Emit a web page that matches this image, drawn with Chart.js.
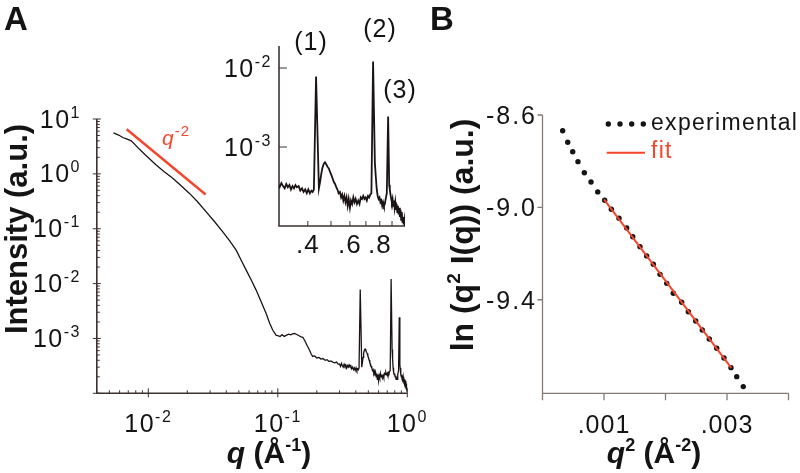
<!DOCTYPE html>
<html>
<head>
<meta charset="utf-8">
<script src="https://cdn.jsdelivr.net/npm/chart.js@4.4.1/dist/chart.umd.min.js"></script>
<style>
  body { margin: 0; background: #fff; }
  #wrap { position: relative; width: 800px; height: 473px; }
  canvas { position: absolute; left: 0; top: 0; }
</style>
</head>
<body>
<div id="wrap">
  <canvas id="chartA" width="800" height="473"></canvas>
  <canvas id="chartInset" width="800" height="473"></canvas>
  <canvas id="chartB" width="800" height="473"></canvas>
</div>
<script>
// panel A: scattering curve, I(q)
const qValues = [
  0.00538, 0.0059, 0.00635, 0.0068, 0.00738, 0.0080, 0.00855, 0.0095, 0.0115, 0.0132,
  0.01545, 0.018, 0.0208, 0.024, 0.028, 0.0325, 0.0376, 0.0425, 0.0477, 0.052,
  0.057, 0.0625, 0.068, 0.0745, 0.0813, 0.0865, 0.0915, 0.0972, 0.100,
  0.104, 0.108, 0.112, 0.116, 0.121, 0.126, 0.130, 0.1346, 0.140, 0.146,
  0.151, 0.156, 0.162, 0.168, 0.176, 0.181, 0.186, 0.193, 0.200, 0.208,
  0.215, 0.223, 0.232, 0.240, 0.249, 0.257, 0.266, 0.275, 0.284, 0.293,
  0.300, 0.305, 0.310, 0.315, 0.320, 0.325, 0.330, 0.335, 0.340, 0.345,
  0.350, 0.355, 0.360, 0.366, 0.372, 0.378, 0.384, 0.390, 0.396, 0.402,
  0.408, 0.414, 0.419, 0.424, 0.433, 0.445, 0.450, 0.455, 0.460, 0.466,
  0.472, 0.478, 0.484, 0.490, 0.496, 0.502, 0.508, 0.514, 0.520, 0.526,
  0.532, 0.538, 0.545, 0.551, 0.557, 0.563, 0.569, 0.575, 0.581, 0.587,
  0.593, 0.600, 0.606, 0.613, 0.620, 0.627, 0.634, 0.642, 0.650, 0.658,
  0.666, 0.674, 0.682, 0.690, 0.698, 0.706, 0.714, 0.722, 0.730, 0.738,
  0.750, 0.763, 0.770, 0.777, 0.784, 0.791, 0.798, 0.805, 0.812, 0.819,
  0.826, 0.833, 0.840, 0.847, 0.856, 0.867, 0.876, 0.881, 0.887, 0.893,
  0.899, 0.905, 0.911, 0.917, 0.923, 0.929, 0.935, 0.941, 0.947, 0.953,
  0.959, 0.965, 0.971, 0.977, 0.983, 0.989, 0.995, 1.001, 1.007, 1.013,
  1.018
];
const intensity = [
  5.6, 5.1, 4.6, 4.35, 4.0, 3.3, 2.8, 2.2, 1.45, 1.1,
  0.83, 0.60, 0.44, 0.31, 0.203, 0.134, 0.0877, 0.060, 0.0407, 0.027,
  0.0176, 0.0115, 0.0076, 0.0046, 0.00284, 0.0019, 0.00141, 0.00114, 0.00112,
  0.00108, 0.00117, 0.00109, 0.00114, 0.00120, 0.00116, 0.00121, 0.00123, 0.00118, 0.00112,
  0.00107, 0.00105, 0.00090, 0.00075, 0.00061, 0.00052, 0.00047, 0.00048, 0.00044, 0.00045,
  0.00042, 0.00043, 0.00040, 0.00041, 0.00038, 0.00039, 0.00037, 0.00036, 0.00037, 0.00034,
  3.4e-4, 3.1e-4, 3.5e-4, 3.2e-4, 3.0e-4, 3.4e-4, 3.1e-4, 3.3e-4, 2.9e-4, 3.2e-4,
  3.0e-4, 3.3e-4, 3.1e-4, 3.2e-4, 2.8e-4, 3.0e-4, 2.7e-4, 2.9e-4, 2.6e-4, 2.9e-4,
  2.6e-4, 2.8e-4, 2.7e-4, 2.9e-4, 7.8e-3, 3.0e-4, 3.6e-4, 4.5e-4, 5.4e-4, 6.1e-4,
  6.4e-4, 6.0e-4, 5.6e-4, 5.3e-4, 4.8e-4, 4.4e-4, 4.0e-4, 3.6e-4, 3.4e-4, 3.1e-4,
  2.9e-4, 2.6e-4, 2.7e-4, 2.3e-4, 2.5e-4, 2.1e-4, 2.4e-4, 2.0e-4, 2.3e-4, 1.8e-4,
  2.2e-4, 1.7e-4, 2.1e-4, 1.9e-4, 2.3e-4, 2.0e-4, 2.2e-4, 1.9e-4, 2.1e-4, 1.9e-4,
  2.3e-4, 2.2e-4, 2.4e-4, 2.2e-4, 2.3e-4, 2.1e-4, 2.4e-4, 2.3e-4, 2.5e-4, 2.6e-4,
  1.21e-2, 6.3e-4, 4.2e-4, 2.9e-4, 2.4e-4, 2.2e-4, 2.3e-4, 2.0e-4, 2.1e-4, 1.8e-4,
  2.0e-4, 1.8e-4, 1.9e-4, 2.2e-4, 2.6e-4, 2.44e-3, 3.3e-4, 2.9e-4, 2.5e-4, 2.2e-4,
  2.0e-4, 2.2e-4, 1.8e-4, 2.1e-4, 1.7e-4, 2.0e-4, 1.6e-4, 1.9e-4, 1.5e-4, 1.8e-4,
  1.4e-4, 1.7e-4, 1.3e-4, 1.6e-4, 1.2e-4, 1.5e-4, 1.1e-4, 1.3e-4, 1.05e-4, 1.2e-4,
  1.0e-4
];
// q^-2 guide line
const slopeQ = [0.0068, 0.0277];
const slopeI = [6.5, 0.42];

// panel B: ln(q^2 I) vs q^2
const q2Values = [
  0.000328, 0.000410, 0.000491, 0.000577, 0.000680, 0.000789, 0.000898, 0.001011, 0.001119, 0.001244,
  0.001369, 0.001467, 0.001585, 0.001694, 0.001802, 0.001911, 0.002020, 0.002127, 0.002263, 0.002371,
  0.002491, 0.002598, 0.002712, 0.002833, 0.002951, 0.003065, 0.003158, 0.003265
];
const lnValues = [
  -8.668, -8.718, -8.759, -8.802, -8.850, -8.890, -8.933, -8.969, -9.008, -9.047,
  -9.089, -9.127, -9.170, -9.210, -9.246, -9.290, -9.329, -9.372, -9.411, -9.452,
  -9.492, -9.531, -9.570, -9.610, -9.652, -9.694, -9.733, -9.776
];
const fitQ2 = [0.00100, 0.00307];
const fitLn = [-8.965, -9.695];

// tick labels
const mainYTicks = [10, 1, 0.1, 0.01, 0.001];
const mainYExp = ["1", "0", "-1", "-2", "-3"];
const mainXTicks = [0.01, 0.1, 1];
const mainXExp = ["-2", "-1", "0"];
const insetYTicks = [0.01, 0.001];
const insetYExp = ["-2", "-3"];
const insetXTicks = [0.4, 0.5, 0.6, 0.7, 0.8, 0.9];
const insetXLabelAt = [0.4, 0.6, 0.8];
const insetXLabels = [".4", ".6", ".8"];
const bXTicks = [0, 0.001, 0.002, 0.003, 0.004];
const bXLabelAt = [0.001, 0.003];
const bXLabels = [".001", ".003"];
const bYTicks = [-8.6, -9.0, -9.4];
const bYLabels = ["-8.6", "-9.0", "-9.4"];

const FONT = "'Liberation Sans', Arial, Helvetica, sans-serif";
const ink = "#141414";
const axisDark = "#3b3230";
const axisGray = "#857a74";
const red = "#f5452b";

function toXY(xs, ys) {
  return xs.map((x, i) => ({ x: x, y: ys[i] }));
}

function drawRich(ctx, parts, x, y, align, spacing) {
  ctx.letterSpacing = spacing || "0px";
  let total = 0;
  parts.forEach(p => { ctx.font = p[1]; total += ctx.measureText(p[0]).width; });
  let cx = align === "right" ? x - total : align === "center" ? x - total / 2 : x;
  parts.forEach(p => {
    ctx.font = p[1];
    ctx.fillText(p[0], cx, y - (p[2] || 0));
    cx += ctx.measureText(p[0]).width;
  });
  ctx.letterSpacing = "0px";
}

function pow10Label(exp, size) {
  return [["10", size + "px " + FONT], [exp, Math.round(size * 0.62) + "px " + FONT, 10]];
}

function logTickValues(min, max) {
  const out = [];
  for (let e = Math.floor(Math.log10(min)); e <= Math.ceil(Math.log10(max)); e++) {
    for (let m = 1; m <= 9; m++) {
      const v = m * Math.pow(10, e);
      if (v >= min * 0.999 && v <= max * 1.001) out.push({ v: v, major: m === 1 });
    }
  }
  return out;
}

const mainAxes = {
  id: "mainAxes",
  beforeDatasetsDraw(chart) {
    const { ctx, chartArea: a, scales: { x, y } } = chart;
    ctx.save();
    ctx.strokeStyle = axisDark;
    ctx.lineWidth = 1;
    ctx.beginPath();
    logTickValues(y.min, y.max).forEach(t => {
      const py = y.getPixelForValue(t.v);
      ctx.moveTo(a.left - (t.major ? 4 : 0), py);
      ctx.lineTo(a.left + (t.major ? 4 : 3), py);
    });
    logTickValues(x.min, x.max).forEach(t => {
      const px = x.getPixelForValue(t.v);
      ctx.moveTo(px, a.bottom + (t.major ? 4 : 0));
      ctx.lineTo(px, a.bottom - (t.major ? 5 : 3));
    });
    ctx.stroke();
    ctx.lineWidth = 1.6;
    ctx.beginPath();
    ctx.moveTo(a.left, a.top);
    ctx.lineTo(a.left, a.bottom);
    ctx.lineTo(a.right, a.bottom);
    ctx.stroke();
    ctx.restore();
  },
  afterDraw(chart) {
    const { ctx, scales: { x, y } } = chart;
    ctx.save();
    ctx.fillStyle = ink;
    ctx.textBaseline = "alphabetic";
    mainYTicks.forEach((v, i) => {
      drawRich(ctx, pow10Label(mainYExp[i], 25), 81, y.getPixelForValue(v) + 8.5, "right", "1.5px");
    });
    mainXTicks.forEach((v, i) => {
      drawRich(ctx, pow10Label(mainXExp[i], 25), x.getPixelForValue(v), 432, "center", "1.5px");
    });
    // axis titles
    drawRich(ctx, [["q", "italic bold 30px " + FONT], [" (Å", "bold 30px " + FONT],
      ["-1", "bold 18px " + FONT, 12], [")", "bold 30px " + FONT]], 269, 463, "center");
    ctx.save();
    ctx.translate(27, 229);
    ctx.rotate(-Math.PI / 2);
    drawRich(ctx, [["Intensity (a.u.)", "bold 31px " + FONT]], 0, 0, "center");
    ctx.restore();
    // panel letter and slope label
    drawRich(ctx, [["A", "bold 33px " + FONT]], 4, 30, "left");
    ctx.fillStyle = red;
    drawRich(ctx, [["q", "italic 21px " + FONT], ["-2", "15px " + FONT, 9]], 162, 145, "left", "1px");
    ctx.restore();
  }
};

const insetAxes = {
  id: "insetAxes",
  beforeDatasetsDraw(chart) {
    const { ctx, chartArea: a, scales: { x, y } } = chart;
    ctx.save();
    ctx.strokeStyle = axisDark;
    ctx.lineWidth = 1;
    ctx.beginPath();
    insetYTicks.forEach(v => {
      const py = y.getPixelForValue(v);
      ctx.moveTo(a.left, py);
      ctx.lineTo(a.left + 8, py);
    });
    insetXTicks.forEach(v => {
      const px = x.getPixelForValue(v);
      ctx.moveTo(px, a.bottom);
      ctx.lineTo(px, a.bottom - 5);
    });
    ctx.stroke();
    ctx.lineWidth = 1.6;
    ctx.beginPath();
    ctx.moveTo(a.left, a.top);
    ctx.lineTo(a.left, a.bottom);
    ctx.lineTo(a.right, a.bottom);
    ctx.stroke();
    ctx.restore();
  },
  afterDraw(chart) {
    const { ctx, scales: { x, y } } = chart;
    ctx.save();
    ctx.fillStyle = ink;
    insetYTicks.forEach((v, i) => {
      drawRich(ctx, pow10Label(insetYExp[i], 25), 272, y.getPixelForValue(v) + 8.5, "right", "1.5px");
    });
    insetXLabelAt.forEach((v, i) => {
      drawRich(ctx, [[insetXLabels[i], "26px " + FONT]], x.getPixelForValue(v), 253, "center", "1px");
    });
    drawRich(ctx, [["(1)", "25px " + FONT]], 311, 50, "center", "1px");
    drawRich(ctx, [["(2)", "25px " + FONT]], 380, 37, "center", "1px");
    drawRich(ctx, [["(3)", "25px " + FONT]], 400, 98, "center", "1px");
    ctx.restore();
  }
};

const bAxes = {
  id: "bAxes",
  beforeDatasetsDraw(chart) {
    const { ctx, chartArea: a, scales: { x, y } } = chart;
    ctx.save();
    ctx.strokeStyle = axisGray;
    ctx.lineWidth = 1.3;
    ctx.beginPath();
    bYTicks.forEach(v => {
      const py = y.getPixelForValue(v);
      ctx.moveTo(a.left - 5, py);
      ctx.lineTo(a.left, py);
    });
    bXTicks.forEach(v => {
      const px = x.getPixelForValue(v);
      ctx.moveTo(px, a.bottom);
      ctx.lineTo(px, a.bottom + 7);
    });
    ctx.moveTo(a.left, a.top);
    ctx.lineTo(a.left, a.bottom);
    ctx.lineTo(a.right, a.bottom);
    ctx.stroke();
    ctx.restore();
  },
  afterDraw(chart) {
    const { ctx, scales: { x, y } } = chart;
    ctx.save();
    ctx.fillStyle = ink;
    bYTicks.forEach((v, i) => {
      drawRich(ctx, [[bYLabels[i], "25px " + FONT]], 537, y.getPixelForValue(v) + 9, "right", "2px");
    });
    bXLabelAt.forEach((v, i) => {
      drawRich(ctx, [[bXLabels[i], "25px " + FONT]], x.getPixelForValue(v), 433, "center", "1px");
    });
    drawRich(ctx, [["q", "italic bold 30px " + FONT], ["2", "bold 18px " + FONT, 12],
      [" (Å", "bold 30px " + FONT], ["-2", "bold 18px " + FONT, 12], [")", "bold 30px " + FONT]],
      654, 463, "center");
    ctx.save();
    ctx.translate(473, 235);
    ctx.rotate(-Math.PI / 2);
    drawRich(ctx, [["ln (q", "bold 32px " + FONT], ["2", "bold 19px " + FONT, 13],
      [" I(q)) (a.u.)", "bold 32px " + FONT]], 0, 0, "center");
    ctx.restore();
    drawRich(ctx, [["B", "bold 33px " + FONT]], 430, 30, "left");
    // legend
    [608.3, 620, 631.7, 643.3].forEach(px => {
      ctx.beginPath();
      ctx.arc(px, 124, 2.7, 0, Math.PI * 2);
      ctx.fill();
    });
    drawRich(ctx, [["experimental", "23px " + FONT]], 651, 130, "left", "1.3px");
    ctx.strokeStyle = red;
    ctx.lineWidth = 2;
    ctx.beginPath();
    ctx.moveTo(606.7, 152.7);
    ctx.lineTo(645, 152.7);
    ctx.stroke();
    ctx.fillStyle = red;
    drawRich(ctx, [["fit", "23px " + FONT]], 651, 158, "left", "1.3px");
    ctx.restore();
  }
};

const common = {
  responsive: false,
  animation: false,
  events: [],
  plugins: { legend: { display: false }, tooltip: { enabled: false } }
};

new Chart(document.getElementById("chartA"), {
  type: "line",
  data: {
    datasets: [
      { data: toXY(qValues, intensity), borderColor: "#1c1414", borderWidth: 1.3, pointRadius: 0, tension: 0 },
      { data: toXY(slopeQ, slopeI), borderColor: red, borderWidth: 2.4, pointRadius: 0 }
    ]
  },
  options: Object.assign({}, common, {
    layout: { padding: { left: 96.8, top: 119, right: 392.7, bottom: 79.7 } },
    scales: {
      x: { type: "logarithmic", min: 0.004, max: 1, display: false },
      y: { type: "logarithmic", min: 1e-4, max: 10, display: false }
    }
  }),
  plugins: [mainAxes]
});

new Chart(document.getElementById("chartInset"), {
  type: "line",
  data: {
    datasets: [
      { data: toXY(qValues, intensity), borderColor: "#1c1414", borderWidth: 1.8, pointRadius: 0, tension: 0 }
    ]
  },
  options: Object.assign({}, common, {
    layout: { padding: { left: 279, top: 46, right: 395, bottom: 247 } },
    scales: {
      x: { type: "logarithmic", min: 0.303, max: 1.02, display: false },
      y: { type: "logarithmic", min: 1e-4, max: 0.019, display: false }
    }
  }),
  plugins: [insetAxes]
});

new Chart(document.getElementById("chartB"), {
  type: "line",
  data: {
    datasets: [
      { data: toXY(fitQ2, fitLn), borderColor: red, borderWidth: 2, pointRadius: 0 },
      { data: toXY(q2Values, lnValues), showLine: false, pointRadius: 2.7, pointBorderWidth: 0,
        pointBackgroundColor: ink, pointBorderColor: ink, clip: false }
    ]
  },
  options: Object.assign({}, common, {
    layout: { padding: { left: 542.5, top: 115, right: 11.5, bottom: 79.7 } },
    scales: {
      x: { type: "linear", min: 0, max: 0.004, display: false },
      y: { type: "linear", min: -9.805, max: -8.6, display: false }
    }
  }),
  plugins: [bAxes]
});
</script>
</body>
</html>
